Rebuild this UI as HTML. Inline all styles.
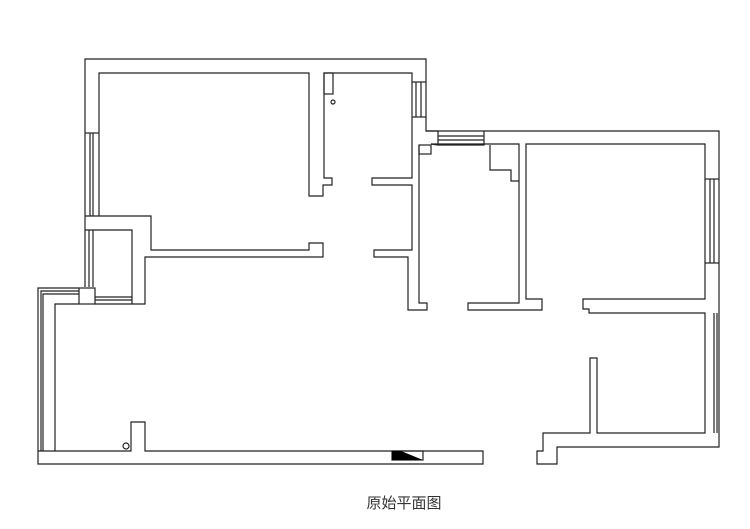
<!DOCTYPE html>
<html><head><meta charset="utf-8"><style>
html,body{margin:0;padding:0;background:#fff;width:750px;height:529px;overflow:hidden}
svg{display:block}
</style></head><body>
<svg width="750" height="529" viewBox="0 0 750 529" xmlns="http://www.w3.org/2000/svg">
<g fill="none" stroke="#222" stroke-width="1.2">
<polyline points="85,287 85,59 426,59 426,131 719,131 719,447 557,447 557,464 537,464 537,451 543,451 543,433 590,433 590,358 597,358 597,433 705,433 705,313 589,313 589,309 583,309 583,299 705,299 705,263 705,179 705,144 526,144 526,299 542,299 542,310 468,310 468,303 519,303 519,144 431,144"/>
<polyline points="99,133 99,73 309,73 309,196 323,196 323,185 332,185 332,178 324,178 324,73 412,73 412,178 372,178 372,185 412,185 412,250 374,250 374,257 408,257 408,310 427,310 427,303 419,303 419,145"/>
<rect x="324" y="73" width="9" height="21"/>
<circle cx="333" cy="102" r="2"/>
<line x1="412" y1="82" x2="426" y2="82"/><line x1="412" y1="117" x2="426" y2="117"/>
<line x1="416" y1="82" x2="416" y2="117"/><line x1="421" y1="82" x2="421" y2="117"/>
<polyline points="426,131 438,131 438,145 484,145 484,131"/>
<line x1="438" y1="136" x2="484" y2="136"/><line x1="438" y1="140" x2="484" y2="140"/>
<polyline points="431,144 438,145"/>
<rect x="419" y="145" width="12" height="9"/>
<polyline points="490,145 490,170 511,170 511,181 519,181"/>
<line x1="705" y1="179" x2="719" y2="179"/><line x1="705" y1="263" x2="719" y2="263"/>
<line x1="710" y1="179" x2="710" y2="263"/><line x1="714" y1="179" x2="714" y2="263"/>
<line x1="714" y1="313" x2="714" y2="433"/><line x1="717" y1="313" x2="717" y2="433"/>
<line x1="85" y1="133" x2="99" y2="133"/><line x1="99" y1="133" x2="99" y2="216"/>
<line x1="90" y1="133" x2="90" y2="216"/><line x1="93" y1="133" x2="93" y2="216"/>
<polyline points="85,216 151,216 151,250 309,250 309,243 323,243 323,257 145,257 145,304 95,304"/>
<polyline points="85,230 132,230 132,304"/>
<line x1="89" y1="230" x2="89" y2="287"/><line x1="93" y1="230" x2="93" y2="287"/>
<line x1="95" y1="297" x2="132" y2="297"/><line x1="95" y1="300" x2="132" y2="300"/>
<rect x="79" y="288" width="16" height="16"/>
<polyline points="79,288 38,288 38,464 483,464 483,451 145,451 145,422 131,422 131,451 55,451 55,304 79,304"/>
<polyline points="41,451 41,291 79,291"/><polyline points="43,451 43,294 79,294"/>
<line x1="38" y1="451" x2="55" y2="451"/>
<circle cx="126" cy="446" r="3"/>
<rect x="392" y="451" width="31" height="9"/>
</g>
<polygon points="392,451 401,451 423,460 392,460" fill="#000"/>
<text x="404" y="508" font-family="'Liberation Sans','Noto Sans CJK SC',sans-serif" font-size="15" fill="#333" text-anchor="middle">原始平面图</text>
</svg>
</body></html>
